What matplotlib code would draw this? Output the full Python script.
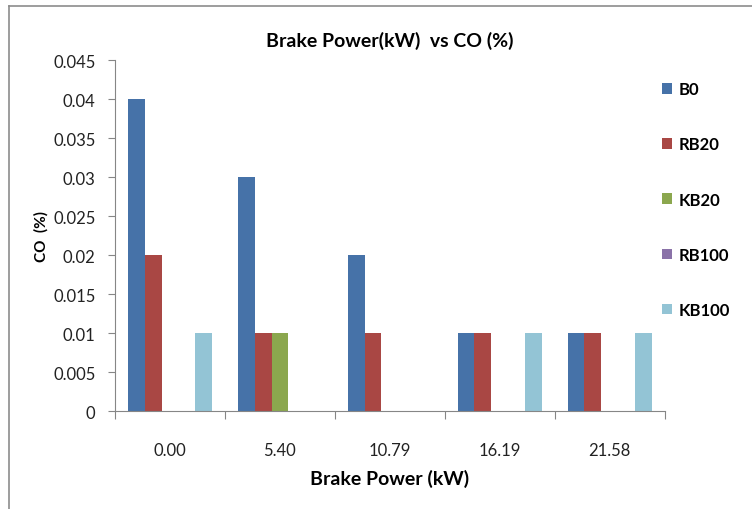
import numpy as np
import matplotlib
matplotlib.use("Agg")
import matplotlib.pyplot as plt
from matplotlib.lines import Line2D
from matplotlib.ticker import FuncFormatter

plt.rcParams['font.family'] = ['Lato', 'DejaVu Sans']

# data
categories = ["0.00", "5.40", "10.79", "16.19", "21.58"]
series_names = ["B0", "RB20", "KB20", "RB100", "KB100"]
b0 = [0.04, 0.03, 0.02, 0.01, 0.01]
rb20 = [0.02, 0.01, 0.01, 0.01, 0.01]
kb20 = [0.0, 0.01, 0.0, 0.0, 0.0]
rb100 = [0.0, 0.0, 0.0, 0.0, 0.0]
kb100 = [0.01, 0.0, 0.0, 0.01, 0.01]
colors = ["#4672A8", "#A94744", "#8BA74E", "#8A72A8", "#93C4D5"]

fig = plt.figure(figsize=(7.52, 5.10), dpi=100)
ax = fig.add_axes([0.153, 0.192, 0.731, 0.688])

# excel-like grouping: gap width 150%
n = len(series_names)
bar_w = 1.0 / (n + 1.5)
x = np.arange(len(categories))
start = -n * bar_w / 2
for i, (vals, name, col) in enumerate(zip([b0, rb20, kb20, rb100, kb100], series_names, colors)):
    ax.bar(x + start + (i + 0.5) * bar_w, vals, width=bar_w, color=col, label=name)

ax.set_xlim(-0.5, len(categories) - 0.5)
ax.set_ylim(0, 0.045)
ax.set_yticks(np.arange(0, 0.0451, 0.005))
ax.yaxis.set_major_formatter(FuncFormatter(lambda v, p: "%g" % round(v, 4)))

# tick marks on category boundaries, labels in the middle
ax.set_xticks(np.arange(-0.5, len(categories)), minor=False)
ax.set_xticklabels([])
ax.set_xticks(x, minor=True)
ax.set_xticklabels(categories, minor=True)
ax.tick_params(axis="x", which="major", length=6, color="#868686", direction="out")
ax.tick_params(axis="x", which="minor", length=0, pad=22, labelsize=12, labelcolor="#222222")
ax.tick_params(axis="y", length=5, color="#868686", pad=9, labelsize=12, labelcolor="#222222")

for s in ["top", "right"]:
    ax.spines[s].set_visible(False)
for s in ["left", "bottom"]:
    ax.spines[s].set_color("#868686")

ax.set_title("Brake Power(kW)  vs CO (%)", fontsize=14, fontweight="bold", pad=10)
ax.set_ylabel("CO  (%)", fontsize=11, fontweight="bold", labelpad=3)
ax.set_xlabel("Brake Power (kW)", fontsize=14, fontweight="bold", labelpad=8)

leg = fig.legend(loc="upper left", bbox_to_anchor=(0.86, 0.868), frameon=False,
                 handlelength=0.6, handleheight=0.6, handletextpad=0.4,
                 labelspacing=2.35, prop={"size": 12, "weight": "bold"})

# chart outer border (only top and left show in the crop)
fig.add_artist(Line2D([0.012, 0.012], [0, 0.986], color="#8c8c8c", lw=1.2))
fig.add_artist(Line2D([0.012, 1.0], [0.986, 0.986], color="#8c8c8c", lw=1.2))

fig.savefig("out.png", dpi=100)
